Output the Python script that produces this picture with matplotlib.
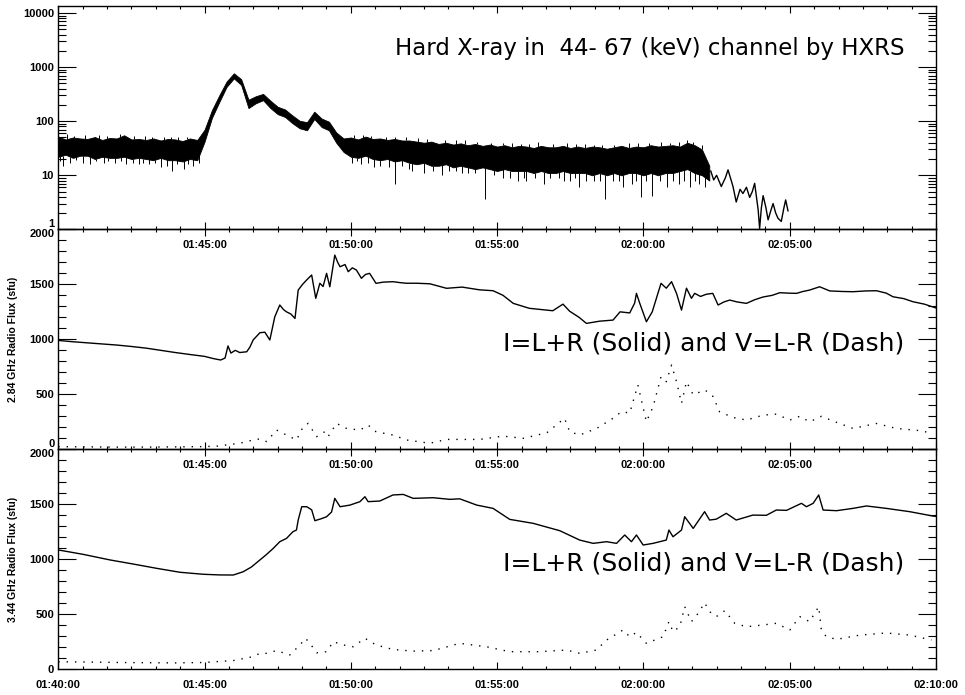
import numpy as np
import matplotlib.pyplot as plt
from matplotlib.ticker import MultipleLocator, FuncFormatter, LogLocator, NullFormatter

plt.rcParams['font.family'] = ['Liberation Sans', 'DejaVu Sans']

# time axis in minutes after 01:40:00
# --- hard X-ray, 44-67 keV (HXRS): noisy band given as upper/lower envelope ---
xr_t = np.arange(0, 22.5, 0.25)
xr_hi = [52, 46, 50, 48, 47, 51, 45, 49, 48, 55, 46, 47, 45, 48, 44, 47, 46, 43, 48, 45,
         70, 160, 300, 540, 770, 600, 250, 290, 320, 240, 185, 165, 128, 102, 96, 150,
         112, 98, 62, 48, 50, 46, 52, 47, 48, 45, 47, 44, 44, 42, 40, 42, 38, 40, 37, 39,
         36, 38, 35, 37, 34, 36, 33, 35, 34, 32, 35, 33, 33, 35, 32, 34, 32, 34, 33, 31,
         33, 35, 32, 34, 33, 36, 34, 35, 36, 34, 40, 36, 30, 15]
xr_lo = [22, 24, 21, 23, 23, 20, 22, 21, 21, 22, 20, 21, 20, 19, 21, 19, 19, 18, 20, 19,
         42, 115, 225, 430, 620, 470, 175, 215, 245, 175, 135, 120, 92, 74, 68, 110,
         78, 68, 40, 27, 22, 21, 23, 20, 19, 20, 18, 19, 17, 16, 17, 15, 15, 16, 14, 15,
         14, 13, 14, 13, 12, 13, 12, 12, 12, 11, 12, 11, 11, 12, 11, 11, 11, 10, 11, 10,
         11, 10, 11, 11, 10, 11, 10, 11, 11, 12, 13, 11, 10, 8]
xr_tail_t = [22.3, 22.4, 22.5, 22.66, 22.8, 22.89, 23.0, 23.06, 23.17, 23.3,
             23.4, 23.52, 23.63, 23.72, 23.8, 23.92, 23.97, 24.03, 24.09, 24.18,
             24.26, 24.35, 24.43, 24.52, 24.6, 24.71, 24.8, 24.86, 24.94]
xr_tail = [12, 8.2, 10, 6.2, 9, 12.6, 8, 6.2, 3.2, 5.5,
           4.6, 6, 3.9, 5, 7.1, 2.3, 1.04, 2.5, 4.2, 2.6,
           1.5, 2.2, 3.0, 2.0, 1.6, 1.4, 2.5, 3.5, 2.2]
# downward and upward noise spikes off the band
dip_t = [0.15, 0.4, 1.1, 1.7, 2.3, 2.9, 3.5, 3.9, 4.3, 4.6,
         10.2, 10.8, 11.5, 12.1, 12.5, 13.1, 13.6, 14.0, 14.6, 15.2,
         15.7, 16.0, 16.6, 17.1, 17.5, 17.8, 18.3, 18.7, 19.3, 19.6,
         19.9, 20.3, 20.8, 21.2, 21.6, 21.9,
         0.05, 0.6, 0.85, 1.3, 1.55, 1.95, 2.15, 2.55, 2.75, 3.1,
         3.3, 3.7, 4.05, 4.45, 4.8, 10.05, 10.35, 10.6, 11.0, 11.3,
         11.75, 12.0, 12.8, 13.35, 13.8, 14.25, 14.9, 15.45, 15.9, 16.3,
         16.8, 17.3, 17.65, 18.05, 18.5, 18.95, 19.15, 19.75, 20.1, 20.55,
         21.0, 21.4, 21.75, 22.1]
dip_v = [15, 17, 16, 18, 16, 17, 14, 12, 13, 15,
         18, 14, 7, 12, 11, 10, 12, 11, 3.7, 9,
         8, 8, 7, 9, 8, 6, 8, 3.7, 6, 7,
         4, 4.2, 6, 7, 6, 7,
         18, 19, 17, 18, 17, 17, 18, 17, 16, 16,
         17, 15, 16, 16, 17, 17, 16, 17, 15, 14,
         15, 13, 12, 12, 11, 11, 10, 9, 9, 9,
         9, 8, 9, 8, 8, 8, 8, 8, 8, 8,
         8, 8, 8, 6]
peak_t = [0.3, 1.4, 2.1, 3.2, 4.1, 10.4, 11.2, 12.3, 13.9, 15.5,
          16.4, 18.0, 19.5, 20.6, 21.5,
          0.55, 0.9, 1.65, 2.6, 2.95, 3.6, 3.85, 4.4, 10.1, 10.7,
          11.5, 11.9, 12.6, 13.2, 13.6, 14.3, 14.8, 15.2, 15.8, 16.1,
          16.9, 17.4, 17.7, 18.3, 18.6, 19.0, 19.8, 20.2, 20.9, 21.2,
          21.7, 22.0]
peak_v = [58, 55, 57, 52, 50, 56, 52, 48, 44, 40,
          42, 38, 40, 42, 44,
          54, 56, 54, 54, 53, 52, 51, 50, 55, 54,
          52, 50, 47, 44, 45, 42, 40, 40, 38, 38,
          38, 39, 38, 37, 36, 37, 39, 40, 40, 42,
          41, 36]

# --- 2.84 GHz radio flux (sfu) ---
i284_t = [0, 0.5, 1.0, 1.5, 2.0, 2.5, 3.0, 3.5, 4.0, 4.5,
          5.0, 5.3, 5.55, 5.7, 5.8, 5.9, 6.05, 6.2, 6.44, 6.55,
          6.66, 6.89, 7.06, 7.23, 7.4, 7.57, 7.7, 7.8, 7.95, 8.09,
          8.2, 8.35, 8.49, 8.66, 8.8, 8.94, 9.05, 9.17, 9.28, 9.45,
          9.55, 9.63, 9.8, 9.91, 10.05, 10.19, 10.36, 10.5, 10.64, 10.86,
          11.1, 11.44, 11.7, 11.9, 12.25, 12.7, 13.27, 13.8, 14.4, 14.86,
          15.2, 15.55, 16.1, 16.9, 17.25, 17.48, 17.8, 18.05, 18.5, 18.96,
          19.2, 19.53, 19.7, 19.76, 19.87, 20.1, 20.3, 20.45, 20.6, 20.78,
          20.96, 21.13, 21.3, 21.47, 21.64, 21.75, 21.95, 22.15, 22.37, 22.55,
          22.75, 22.95, 23.2, 23.52, 23.8, 24.09, 24.4, 24.66, 24.95, 25.23,
          25.45, 25.68, 26.02, 26.37, 26.8, 27.16, 27.6, 27.96, 28.3, 28.53,
          28.9, 29.21, 29.6, 30.0]
i284 = [990, 978, 968, 958, 948, 935, 920, 900, 880, 862,
        845, 825, 812, 830, 940, 875, 900, 880, 887, 930,
        994, 1060, 1065, 994, 1205, 1312, 1270, 1250, 1230, 1190,
        1448, 1500, 1540, 1585, 1373, 1510, 1480, 1600, 1478, 1766,
        1700, 1660, 1680, 1615, 1650, 1630, 1555, 1590, 1600, 1509,
        1520, 1524, 1515, 1510, 1510, 1505, 1464, 1475, 1450, 1442,
        1400, 1327, 1282, 1260, 1320, 1255, 1200, 1145, 1165, 1175,
        1250, 1240, 1330, 1418, 1330, 1160, 1250, 1380, 1509, 1465,
        1524, 1418, 1266, 1465, 1373, 1418, 1390, 1410, 1418, 1312,
        1340, 1357, 1340, 1327, 1360, 1385, 1400, 1424, 1420, 1418,
        1435, 1448, 1478, 1440, 1435, 1433, 1440, 1442, 1420, 1387,
        1370, 1342, 1320, 1285]
v284_t = [0, 1, 2, 3, 4, 5, 5.5, 5.75, 6.2, 6.66,
          6.9, 7.12, 7.46, 7.8, 8.14, 8.37, 8.54, 8.83, 9.11, 9.22,
          9.51, 9.85, 10.31, 10.59, 10.86, 11.44, 11.9, 12.7, 13.27, 14.4,
          15.2, 15.9, 16.7, 17.3, 17.48, 17.82, 18.4, 18.96, 19.25, 19.53,
          19.81, 20.1, 20.33, 20.6, 20.78, 20.96, 21.13, 21.3, 21.47, 21.7,
          22.1, 22.38, 22.6, 23.06, 23.52, 24.09, 24.54, 25.0, 25.34, 25.68,
          26.08, 26.6, 27.16, 27.96, 28.64, 29.44, 29.9]
v284 = [24, 22, 20, 20, 22, 25, 30, 40, 55, 85,
        95, 70, 175, 130, 85, 205, 236, 115, 160, 115,
        236, 190, 175, 220, 160, 130, 85, 55, 90, 90,
        120, 100, 151, 282, 160, 130, 190, 282, 342, 330,
        585, 251, 388, 660, 615, 766, 615, 418, 615, 496,
        540, 480, 342, 290, 266, 311, 320, 266, 300, 250,
        300, 245, 190, 235, 190, 170, 145]

# --- 3.44 GHz radio flux (sfu) ---
i344_t = [0, 0.85, 1.77, 2.56, 3.36, 4.16, 4.95, 5.5, 5.98, 6.32,
          6.6, 6.89, 7.1, 7.35, 7.57, 7.8, 8.02, 8.14, 8.2, 8.32,
          8.49, 8.66, 8.77, 9.0, 9.17, 9.34, 9.45, 9.63, 9.97, 10.31,
          10.48, 10.59, 10.99, 11.44, 11.79, 12.13, 12.81, 13.38, 13.72, 14.3,
          14.86, 15.43, 16.23, 17.14, 17.82, 18.28, 18.74, 19.08, 19.36, 19.59,
          19.76, 19.99, 20.33, 20.78, 20.87, 21.01, 21.3, 21.41, 21.7, 22.09,
          22.26, 22.49, 22.83, 23.17, 23.74, 24.2, 24.54, 24.89, 25.4, 25.57,
          25.8, 25.99, 26.14, 26.6, 27.16, 27.62, 28.3, 29.1, 29.9, 30.0]
i344 = [1085, 1045, 994, 957, 918, 882, 864, 858, 857, 887,
        930, 994, 1040, 1100, 1160, 1190, 1251, 1266, 1357, 1478,
        1478, 1450, 1351, 1370, 1387, 1430, 1554, 1478, 1493, 1524,
        1569, 1524, 1530, 1585, 1590, 1554, 1560, 1545, 1550, 1493,
        1463, 1363, 1327, 1260, 1175, 1145, 1160, 1145, 1221, 1160,
        1221, 1130, 1145, 1175, 1266, 1205, 1266, 1387, 1281, 1433,
        1357, 1365, 1418, 1357, 1402, 1400, 1448, 1445, 1509, 1478,
        1509, 1585, 1448, 1442, 1463, 1485, 1463, 1433, 1393, 1390]
v344_t = [0, 1, 2, 3, 4, 5, 6, 6.66, 6.89, 7.12,
          7.46, 7.91, 8.26, 8.45, 8.6, 8.83, 9.17, 9.4, 9.74, 10.08,
          10.48, 10.86, 11.44, 12.13, 12.81, 13.72, 14.63, 15.43, 16.45, 17.37,
          17.82, 18.39, 18.74, 19.3, 19.53, 19.76, 20.1, 20.67, 20.87, 21.01,
          21.24, 21.41, 21.64, 21.87, 22.09, 22.26, 22.49, 22.78, 23.12, 23.52,
          24.09, 24.54, 25.0, 25.34, 25.68, 25.85, 25.99, 26.08, 26.25, 26.6,
          27.4, 28.3, 29.1, 29.84]
v344 = [68, 66, 62, 60, 58, 62, 80, 115, 145, 145,
        170, 130, 221, 282, 236, 150, 160, 251, 221, 205,
        282, 221, 180, 165, 170, 236, 205, 160, 160, 175,
        145, 175, 266, 357, 296, 335, 236, 296, 433, 342,
        387, 569, 433, 509, 605, 524, 479, 533, 418, 387,
        403, 418, 357, 479, 433, 509, 569, 357, 296, 272,
        311, 330, 311, 266]

title_text = 'Hard X-ray in  44- 67 (keV) channel by HXRS'
legend_text = 'I=L+R (Solid) and V=L-R (Dash)'


def hms(x, edges=True):
    if not edges and (x < 0.01 or x > 29.99):
        return ''
    s = int(round(x * 60)) + 3600 + 40 * 60
    return '%02d:%02d:%02d' % (s // 3600, (s // 60) % 60, s % 60)


def style_axis(ax, edges):
    ax.set_xlim(0, 30)
    ax.xaxis.set_major_locator(MultipleLocator(5))
    ax.xaxis.set_minor_locator(MultipleLocator(5 / 6))
    ax.xaxis.set_major_formatter(FuncFormatter(lambda x, p: hms(x, edges)))
    ax.tick_params(axis='x', which='major', direction='in', length=5, width=0.8,
                   top=True, labelsize=8, pad=8)
    ax.tick_params(axis='x', which='minor', direction='in', length=2.5, width=0.8, top=True)
    ax.tick_params(axis='y', which='major', direction='in', length=13, width=0.8,
                   right=True, labelsize=8, pad=3)
    ax.tick_params(axis='y', which='minor', direction='in', length=6, width=0.8, right=True)
    for lab in ax.get_xticklabels() + ax.get_yticklabels():
        lab.set_fontweight('bold')
    for sp in ax.spines.values():
        sp.set_linewidth(1.0)
    ax.patch.set_visible(False)


def edge_label(ax, text, at_top):
    # end labels drawn by hand so the stacked panels' labels sit above/below the shared line
    ax.text(-0.0045, 1.0 if at_top else 0.0, text, transform=ax.transAxes, ha='right',
            va='top' if at_top else 'bottom', fontsize=8, fontweight='bold')


def lin_fmt(v, hide):
    return '' if int(round(v)) in hide else '%d' % round(v)


fig = plt.figure(figsize=(9.65, 6.95), dpi=100)
ax1 = fig.add_axes([0.0604, 0.670, 0.9096, 0.3213])
ax2 = fig.add_axes([0.0604, 0.3535, 0.9096, 0.3165])
ax3 = fig.add_axes([0.0604, 0.037, 0.9096, 0.3165])

# top: hard X-ray
ax1.fill_between(xr_t, xr_lo, xr_hi, color='black', lw=0.6)
ax1.vlines(dip_t, dip_v, np.interp(dip_t, xr_t, xr_lo), color='black', lw=0.7)
ax1.vlines(peak_t, np.interp(peak_t, xr_t, xr_hi), peak_v, color='black', lw=0.7)
ax1.plot(xr_tail_t, xr_tail, color='black', lw=1.0)
ax1.set_yscale('log')
ax1.set_ylim(1, 13500)
ax1.yaxis.set_major_locator(LogLocator(base=10, numticks=10))
ax1.yaxis.set_minor_locator(LogLocator(base=10, subs=np.arange(2, 10), numticks=20))
ax1.yaxis.set_major_formatter(FuncFormatter(lambda v, p: '' if v < 1.5 else '%d' % round(v)))
ax1.yaxis.set_minor_formatter(NullFormatter())
ax1.text(0.964, 0.812, title_text, transform=ax1.transAxes, ha='right', va='center',
         fontsize=16.5, family='DejaVu Sans')
style_axis(ax1, False)
edge_label(ax1, '1', False)

# middle: 2.84 GHz
ax2.plot(i284_t, i284, color='black', lw=1.0)
ax2.plot(v284_t, v284, color='black', lw=1.0, linestyle=(0, (1, 5)))
ax2.set_ylim(0, 2000)
ax2.yaxis.set_major_locator(MultipleLocator(500))
ax2.yaxis.set_minor_locator(MultipleLocator(100))
ax2.yaxis.set_major_formatter(FuncFormatter(lambda v, p: lin_fmt(v, (0, 2000))))
ax2.set_ylabel('2.84 GHz Radio Flux (sfu)', fontsize=7.5, fontweight='bold')
ax2.yaxis.set_label_coords(-0.046, 0.5)
ax2.text(0.964, 0.483, legend_text, transform=ax2.transAxes, ha='right', va='center',
         fontsize=18, family='DejaVu Sans')
style_axis(ax2, False)
edge_label(ax2, '2000', True)
edge_label(ax2, '0', False)

# bottom: 3.44 GHz
ax3.plot(i344_t, i344, color='black', lw=1.0)
ax3.plot(v344_t, v344, color='black', lw=1.0, linestyle=(0, (1, 5)))
ax3.set_ylim(0, 2000)
ax3.yaxis.set_major_locator(MultipleLocator(500))
ax3.yaxis.set_minor_locator(MultipleLocator(100))
ax3.yaxis.set_major_formatter(FuncFormatter(lambda v, p: lin_fmt(v, (2000,))))
ax3.set_ylabel('3.44 GHz Radio Flux (sfu)', fontsize=7.5, fontweight='bold')
ax3.yaxis.set_label_coords(-0.046, 0.5)
ax3.text(0.964, 0.483, legend_text, transform=ax3.transAxes, ha='right', va='center',
         fontsize=18, family='DejaVu Sans')
style_axis(ax3, True)
edge_label(ax3, '2000', True)

fig.savefig('out.png', dpi=100)
